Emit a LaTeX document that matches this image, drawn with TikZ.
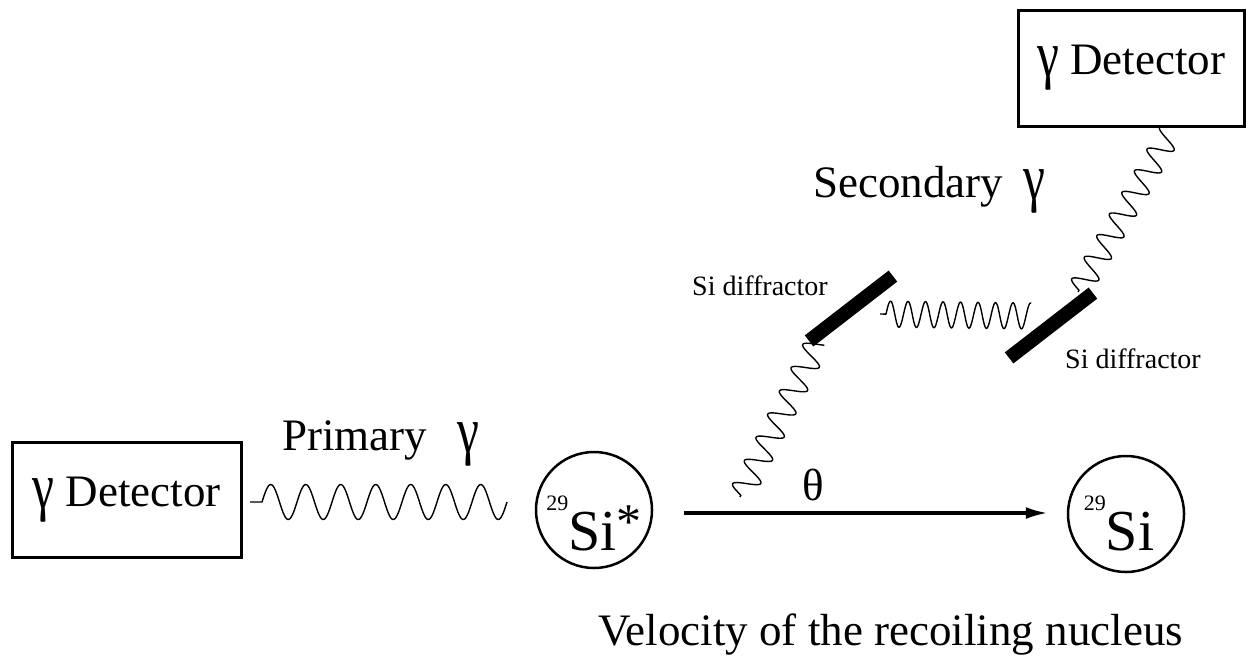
\documentclass[tikz,border=0pt]{standalone}
\usepackage{fontspec}
\setmainfont{Liberation Serif}
\usepackage{graphicx}
\usepackage{tikz}
\usetikzlibrary{
	arrows.meta,
	positioning,
	calc
}
\newcommand{\bigtext}{\fontsize{45}{54}\selectfont}
\newcommand{\smalltext}{\fontsize{28}{34}\selectfont}
\newcommand{\isotext}{\fontsize{58}{64}\selectfont}
\newcommand{\masstext}{\fontsize{22}{26}\selectfont}
\newcommand{\gam}{\raisebox{-2pt}{\scalebox{1.1}[1.45]{γ}}}
% wave from #1 to #2: amplitude #3, wave length #4, straight lead-in #5
\newcommand{\drawwave}[5]{%
	\draw[photon] let \p1=($(#2)-(#1)$), \n1={veclen(\x1,\y1)}, \n2={atan2(\y1,\x1)} in
		[shift={(#1)}, rotate=\n2] (0,0) -- (#5,0)
		-- plot[variable=\t, domain=#5:\n1, samples=220, smooth] (\t, {-#3*sin(360/#4*(\t-#5))});
}

\begin{document}
\begin{tikzpicture}[x=1pt, y=-1pt,
				detbox/.style={
					rectangle, draw, line width=3pt,
					minimum width=229pt, minimum height=115pt,
					inner sep=0pt, align=center, font=\bigtext
				},
				nucleus/.style={
					circle, draw, line width=2.5pt,
					minimum size=116pt, inner sep=0pt
				},
				isotope/.style={
					anchor=base, inner sep=0pt, font=\isotext
				},
				diffractor/.style={
					rectangle, fill=black, inner sep=0pt,
					minimum width=106pt, minimum height=14pt, rotate=37.7
				},
				label/.style={
					anchor=base west, inner sep=0pt, font=\bigtext
				},
				smalllabel/.style={
					anchor=base west, inner sep=0pt, font=\smalltext
				},
				photon/.style={line width=1.4pt, line join=round},
				arrow/.style={-{Latex[length=22pt, width=12pt]}, line width=3.2pt},
				]
				
				\useasboundingbox (0,0) rectangle (1246,656);
				
				%source side
				\node[detbox] (detL) at (126.5,499.5) {\gam{} Detector};
				\node[nucleus] (sistar) at (594,510) {};
				\node[isotope] (sistarlbl) at ([yshift=-40pt]sistar.center)
					{\raisebox{40pt}{\masstext 29}Si\raisebox{12pt}{\fontsize{50}{50}\selectfont *}};
				\drawwave{[xshift=7.5pt, yshift=-2.5pt]detL.east}{[xshift=-27.75pt, yshift=8pt]sistar.west}{17.5}{35}{12}
				\node[label] (primary) at (282,450) {Primary\hspace{30pt}\gam};
				
				%recoil
				\node[nucleus] (si) at (1126,514) {};
				\node[isotope] (silbl) at ([xshift=-7pt, yshift=-36pt]si.center)
					{\raisebox{40pt}{\masstext 29}Si};
				\draw[arrow] ([xshift=31pt, yshift=-3pt]sistar.east) -- ([xshift=-19pt, yshift=1pt]si.west);
				\node[font=\bigtext] (theta) at (813,485) {θ};
				\node[label] (velocity) at (598,645) {Velocity of the recoiling nucleus};
				
				%diffractors
				\node[diffractor] (diffA) at (851,308.5) {};
				\node[diffractor] (diffB) at (1051,325.5) {};
				\node[smalllabel] (diffAlbl) at (692,295) {Si diffractor};
				\node[smalllabel] (diffBlbl) at (1065,368) {Si diffractor};
				
				\coordinate (emit) at (740,497);
				\drawwave{emit}{[shift={(-33,33.5)}]diffA.center}{12.5}{26}{2}
				\drawwave{[shift={(29,5.5)}]diffA.center}{[shift={(-20,-9.5)}]diffB.center}{13}{17.5}{6}
				
				%secondary side
				\node[detbox, minimum width=226pt, minimum height=116pt] (detR) at (1131,68) {\gam{} Detector};
				\drawwave{[shift={(27,-33.5)}]diffB.center}{[shift={(41,62)}]detR.center}{12}{25}{2}
				\node[label] (secondary) at (813,197) {Secondary\hspace{20pt}\gam};
			\end{tikzpicture}
\end{document}
